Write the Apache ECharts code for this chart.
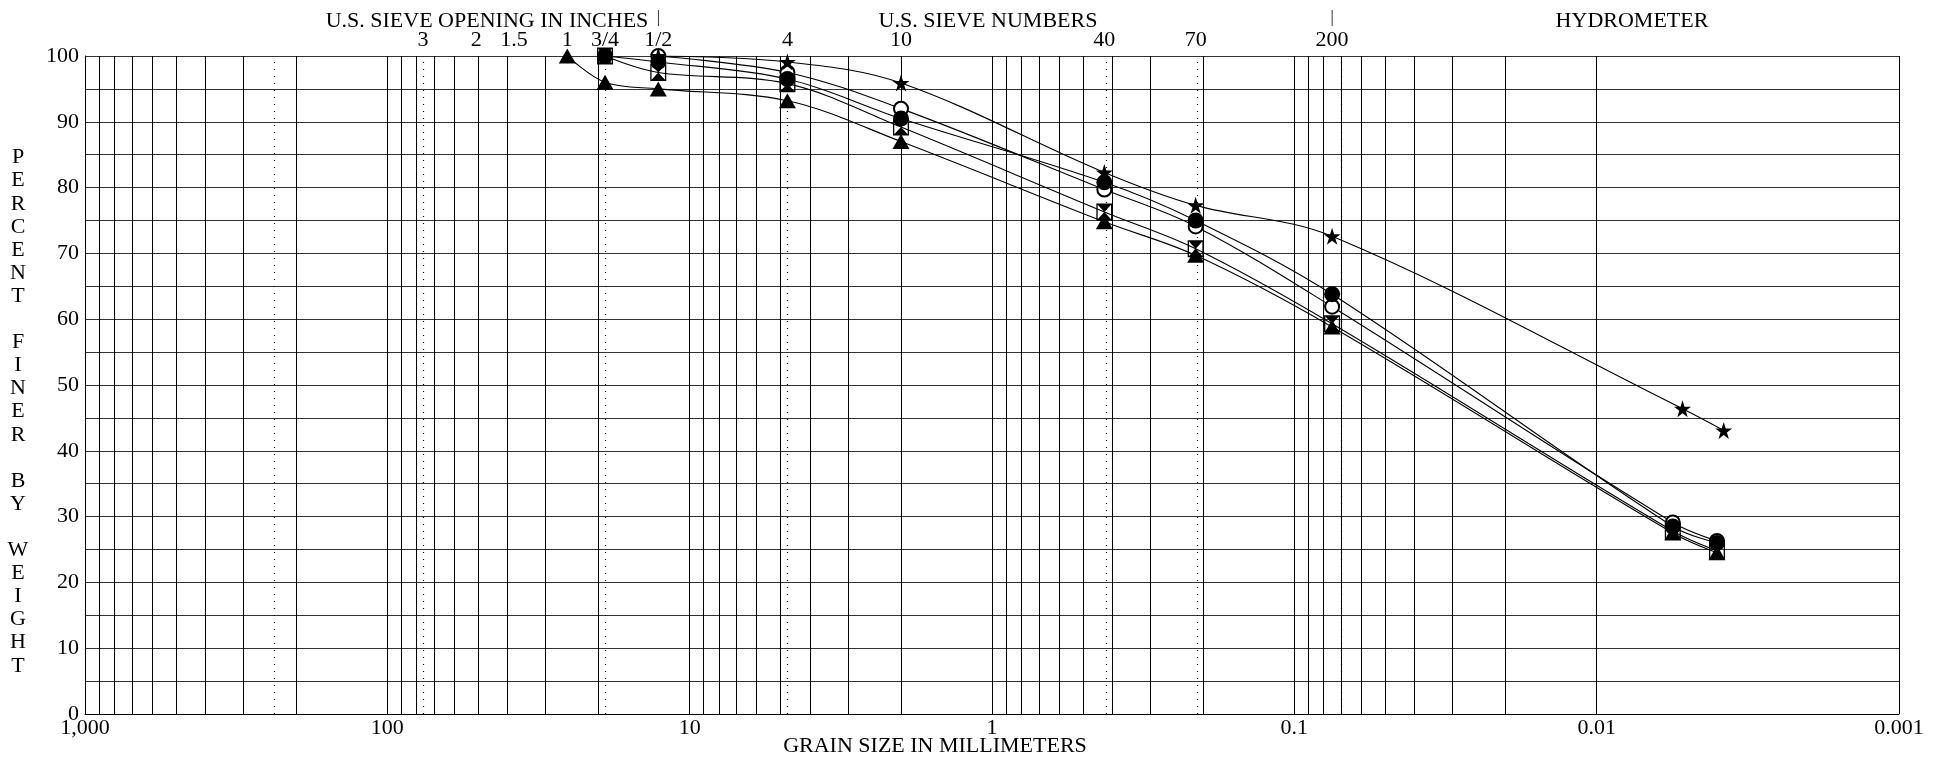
<!DOCTYPE html>
<html>
<head>
<meta charset="utf-8">
<script src="https://cdn.jsdelivr.net/npm/echarts@6/dist/echarts.min.js"></script>
<style>
  html, body { margin: 0; padding: 0; background: #fff; }
  #chart { width: 1933px; height: 759px; }
</style>
</head>
<body>
<div id="chart"></div>
<script>
// grain sizes in mm, percent finer by weight
const triangleSize = [25.4, 19.05, 12.7, 4.75, 2.0, 0.425, 0.212, 0.075, 0.0056, 0.0040];
const trianglePct = [100, 96.0, 95.0, 93.2, 87.0, 74.8, 69.7, 58.8, 27.5, 24.5];

const hourglassSize = [19.05, 12.7, 4.75, 2.0, 0.425, 0.212, 0.075, 0.0056, 0.0040];
const hourglassPct = [100, 97.5, 95.8, 89.2, 76.3, 70.7, 59.3, 27.8, 24.8];

const openCircleSize = [12.7, 4.75, 2.0, 0.425, 0.212, 0.075, 0.0056, 0.0040];
const openCirclePct = [100, 97.5, 92.0, 79.7, 74.1, 61.9, 29.1, 26.3];

const dotSize = [19.05, 12.7, 4.75, 2.0, 0.425, 0.212, 0.075, 0.0056, 0.0040];
const dotPct = [100, 99.1, 96.5, 90.5, 80.8, 75.0, 63.8, 28.5, 26.0];

const starSize = [12.7, 4.75, 2.0, 0.425, 0.212, 0.075, 0.0052, 0.0038];
const starPct = [100, 99.1, 95.9, 82.3, 77.3, 72.6, 46.4, 43.1];

// sieve labels on top
const sieveLabels = ['3', '2', '1.5', '1', '3/4', '1/2', '4', '10', '40', '70', '200'];
const sieveSizes = [76.2, 50.8, 38.1, 25.4, 19.05, 12.7, 4.75, 2.0, 0.425, 0.212, 0.075];
const dottedSizes = [237, 76.2, 19.05, 4.75, 0.425, 0.212, 0.075];
const dividerSizes = [12.7, 0.075];
const xTickLabels = ['1,000', '100', '10', '1', '0.1', '0.01', '0.001'];
const yLabel = 'PERCENT FINER BY WEIGHT';

const FONT = '"Liberation Serif", "DejaVu Serif", serif';

const chart = echarts.init(document.getElementById('chart'), null, { renderer: 'canvas' });

// log minor grid lines 2..9 in each decade
const minorLines = [];
for (let e = -3; e < 3; e++) {
  for (let m = 2; m <= 9; m++) minorLines.push({ xAxis: m * Math.pow(10, e) });
}

const hourglass = 'path://M0,0H16V17H0Z M1.3,1.3V15.7H14.7V1.3Z M1.3,1.3H14.7L8,8.5Z M1.3,15.7H14.7L8,8.5Z';
const star = 'path://M8,0L9.9,5.8L16,5.8L11,9.4L12.9,15.2L8,11.6L3.1,15.2L5,9.4L0,5.8L6.1,5.8Z';

function makeSeries(name, sizes, pcts, symbol, symbolSize, empty) {
  return {
    name: name,
    type: 'line',
    data: sizes.map((s, i) => [s, pcts[i]]),
    smooth: 0.35,
    symbol: symbol,
    symbolSize: symbolSize,
    showAllSymbol: true,
    lineStyle: { color: '#000', width: 1.1 },
    itemStyle: empty
      ? { color: '#000', borderColor: '#000', borderWidth: 1.2 }
      : { color: '#000', borderWidth: 0 },
    z: 3
  };
}

const series = [
  makeSeries('open', openCircleSize, openCirclePct, 'emptyCircle', 14, true),
  makeSeries('star', starSize, starPct, star, 17, false),
  makeSeries('dot', dotSize, dotPct, 'circle', 16, false),
  makeSeries('hourglass', hourglassSize, hourglassPct, hourglass, [16, 17], false),
  makeSeries('triangle', triangleSize, trianglePct, 'triangle', [17, 15], false)
];
series[0].markLine = {
  silent: true,
  symbol: 'none',
  z: 1,
  label: { show: false },
  animation: false,
  data: minorLines.map(d => Object.assign({ lineStyle: { color: '#000', width: 1, type: 'solid' } }, d))
    .concat(dottedSizes.map(s => ({ xAxis: s, lineStyle: { color: '#000', width: 1.2, type: [1, 6] } })))
};

const option = {
  animation: false,
  backgroundColor: '#fff',
  grid: { left: 85, right: 34, top: 56, bottom: 45, containLabel: false },
  xAxis: {
    type: 'log',
    logBase: 10,
    min: 0.001,
    max: 1000,
    interval: 1,
    splitNumber: 6,
    inverse: true,
    axisLine: { show: true, lineStyle: { color: '#000', width: 1 } },
    axisTick: { show: false },
    axisLabel: {
      color: '#000', fontFamily: FONT, fontSize: 22, margin: 3,
      showMinLabel: true, showMaxLabel: true,
      formatter: v => xTickLabels[3 - Math.round(Math.log10(v))]
    },
    splitLine: { show: true, lineStyle: { color: '#000', width: 1 } }
  },
  yAxis: {
    type: 'value',
    min: 0,
    max: 100,
    interval: 5,
    axisLine: { show: true, lineStyle: { color: '#000', width: 1 } },
    axisTick: { show: false },
    axisLabel: {
      color: '#000', fontFamily: FONT, fontSize: 22, margin: 6,
      formatter: v => (v % 10 === 0 ? String(v) : '')
    },
    splitLine: { show: true, lineStyle: { color: '#333', width: 1.2 } }
  },
  series: series
};

chart.setOption(option);

// texts placed through the x scale
const textStyle = (text, size) => ({ text: text, font: size + 'px ' + FONT, fill: '#000', align: 'center', verticalAlign: 'middle' });
const xPix = v => chart.convertToPixel({ xAxisIndex: 0 }, v);
const graphics = [];
sieveLabels.forEach((lab, i) => {
  graphics.push({ type: 'text', x: xPix(sieveSizes[i]), y: 40, style: textStyle(lab, 22), silent: true });
});
dividerSizes.forEach(s => {
  graphics.push({ type: 'text', x: xPix(s), y: 18, style: textStyle('|', 16), silent: true });
});
graphics.push({ type: 'text', x: 487, y: 21, style: textStyle('U.S. SIEVE OPENING IN INCHES', 22), silent: true });
graphics.push({ type: 'text', x: 988, y: 21, style: textStyle('U.S. SIEVE NUMBERS', 22), silent: true });
graphics.push({ type: 'text', x: 1632, y: 21, style: textStyle('HYDROMETER', 22), silent: true });
graphics.push({ type: 'text', x: 935, y: 746, style: textStyle('GRAIN SIZE IN MILLIMETERS', 22), silent: true });
graphics.push({
  type: 'text', x: 18, y: 146, silent: true,
  style: {
    text: yLabel.split('').map(c => (c === ' ' ? ' ' : c)).join('\n'),
    font: '22px ' + FONT, fill: '#000', align: 'center', verticalAlign: 'top', lineHeight: 23.1
  }
});
chart.setOption({ graphic: graphics });
</script>
</body>
</html>
